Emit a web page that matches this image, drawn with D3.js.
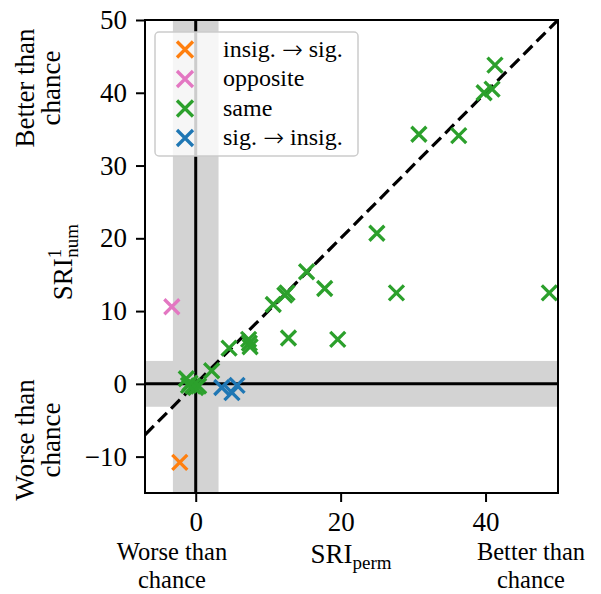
<!DOCTYPE html>
<html><head><meta charset="utf-8">
<script src="https://cdn.jsdelivr.net/npm/d3@7"></script>
<style>body{margin:0;background:#fff}</style>
</head><body>
<script>
const categories = ["insig. \u2192 sig.", "opposite", "same", "sig. \u2192 insig."];
const colors = ["#ff7f0e", "#e377c2", "#2ca02c", "#1f77b4"];
const insigToSigX = [-2.2];
const insigToSigY = [-10.8];
const oppositeX = [-3.3];
const oppositeY = [10.6];
const sameX = [-1.3, -0.8, -0.4, 0.0, 0.4, -1.0, 2.2, 4.6, 7.3, 7.5, 7.4, 10.7, 12.3, 12.6, 12.8, 15.3, 17.8, 19.6, 25.0, 27.7, 30.8, 36.3, 39.8, 40.9, 41.3, 48.8];
const sameY = [0.7, 0.1, -0.3, -0.5, -0.3, -0.2, 1.8, 4.9, 6.1, 5.1, 5.6, 10.9, 12.2, 12.5, 6.3, 15.4, 13.1, 6.1, 20.7, 12.5, 34.3, 34.1, 40.0, 40.5, 43.8, 12.5];
const sigToInsigX = [3.6, 5.0, 5.7];
const sigToInsigY = [-0.5, -1.2, -0.2];
const xTicks = [0, 20, 40];
const yTicks = [-10, 0, 10, 20, 30, 40, 50];
const xDomain = [-7, 50];
const yDomain = [-15, 50];
const band = 3.15;

const FONT = '"Liberation Serif", "DejaVu Serif", serif';
const groups = [
  {xs: insigToSigX, ys: insigToSigY},
  {xs: oppositeX, ys: oppositeY},
  {xs: sameX, ys: sameY},
  {xs: sigToInsigX, ys: sigToInsigY}
];

const W = 601, H = 594;
const m = {l: 145, r: 558, t: 20, b: 493};
const svg = d3.select("body").append("svg").attr("width", W).attr("height", H)
  .style("font-family", FONT);
const x = d3.scaleLinear().domain(xDomain).range([m.l, m.r]);
const y = d3.scaleLinear().domain(yDomain).range([m.b, m.t]);

svg.append("clipPath").attr("id", "clip").append("rect")
  .attr("x", m.l).attr("y", m.t).attr("width", m.r - m.l).attr("height", m.b - m.t);
const plot = svg.append("g").attr("clip-path", "url(#clip)");

plot.append("rect").attr("x", x(-band)).attr("y", m.t).attr("width", x(band) - x(-band)).attr("height", m.b - m.t).attr("fill", "#d3d3d3");
plot.append("rect").attr("x", m.l).attr("y", y(band)).attr("width", m.r - m.l).attr("height", y(-band) - y(band)).attr("fill", "#d3d3d3");
plot.append("line").attr("x1", x(0)).attr("x2", x(0)).attr("y1", m.t).attr("y2", m.b).attr("stroke", "#000").attr("stroke-width", 3);
plot.append("line").attr("x1", m.l).attr("x2", m.r).attr("y1", y(0)).attr("y2", y(0)).attr("stroke", "#000").attr("stroke-width", 3);
plot.append("line").attr("x1", x(-7)).attr("y1", y(-7)).attr("x2", x(50)).attr("y2", y(50))
  .attr("stroke", "#000").attr("stroke-width", 3.2).attr("stroke-dasharray", "12.5,6");

function cross(g, cx, cy, s, color) {
  g.append("path").attr("d", `M${cx - s},${cy - s}L${cx + s},${cy + s}M${cx - s},${cy + s}L${cx + s},${cy - s}`)
    .attr("stroke", color).attr("stroke-width", 3.3).attr("fill", "none");
}
groups.forEach((gr, i) => {
  gr.xs.forEach((v, j) => cross(plot, x(v), y(gr.ys[j]), 7.5, colors[i]));
});

const xAxis = svg.append("g").attr("transform", `translate(0,${m.b})`)
  .call(d3.axisBottom(x).tickValues(xTicks).tickSize(9).tickPadding(10).tickFormat(d3.format("d")));
const yAxis = svg.append("g").attr("transform", `translate(${m.l},0)`)
  .call(d3.axisLeft(y).tickValues(yTicks).tickSize(9).tickPadding(9).tickFormat(d => d < 0 ? "\u2212" + Math.abs(d) : d));
[xAxis, yAxis].forEach(a => {
  a.attr("font-family", FONT);
  a.select(".domain").remove();
  a.selectAll(".tick line").attr("stroke", "#000").attr("stroke-width", 2);
  a.selectAll(".tick text").attr("font-family", FONT).style("font-size", "27px").attr("fill", "#000");
});
svg.append("rect").attr("x", m.l).attr("y", m.t).attr("width", m.r - m.l).attr("height", m.b - m.t)
  .attr("fill", "none").attr("stroke", "#000").attr("stroke-width", 2);

function txt2(xp, yp, lines, fs, gap, rot) {
  const t = svg.append("text").attr("text-anchor", "middle")
    .attr("font-family", FONT).style("font-size", fs + "px");
  if (rot) {
    t.attr("transform", `translate(${xp},${yp}) rotate(-90)`);
    lines.forEach((s, k) => t.append("tspan").attr("x", 0).attr("y", k * gap).text(s));
  } else {
    lines.forEach((s, k) => t.append("tspan").attr("x", xp).attr("y", yp + k * gap).text(s));
  }
  return t;
}
txt2(172, 560, ["Worse than", "chance"], 24.5, 28);
txt2(531, 560, ["Better than", "chance"], 24.5, 28);
const xl = svg.append("text").attr("x", 351).attr("y", 563).attr("text-anchor", "middle").attr("font-family", FONT).style("font-size", "27px");
xl.append("tspan").text("SRI");
xl.append("tspan").attr("dy", 6).style("font-size", "19px").text("perm");

txt2(34, 88, ["Better than", "chance"], 27, 26, true);
txt2(34, 440, ["Worse than", "chance"], 27, 26, true);
const yl = svg.append("text").attr("x", 72).attr("y", 262).attr("text-anchor", "middle")
  .attr("transform", "rotate(-90,72,262)").attr("font-family", FONT).style("font-size", "27px");
yl.append("tspan").text("SRI");
yl.append("tspan").attr("dy", -11).style("font-size", "19px").text("1");
yl.append("tspan").attr("dx", -9).attr("dy", 17).style("font-size", "19px").text("num");

const lg = svg.append("g");
lg.append("rect").attr("x", 155).attr("y", 32).attr("width", 203).attr("height", 124).attr("rx", 4)
  .attr("fill", "#fff").attr("fill-opacity", 0.8).attr("stroke", "#cccccc").attr("stroke-width", 1.5);
categories.forEach((c, i) => {
  const ry = 49.5 + i * 29.5;
  cross(lg, 185, ry, 8, colors[i]);
  const t = lg.append("text").attr("x", 223).attr("y", ry + 7).attr("font-family", FONT).style("font-size", "24px");
  const parts = c.split("\u2192");
  t.append("tspan").text(parts[0]);
  if (parts.length > 1) {
    t.append("tspan").attr("font-family", '"DejaVu Sans", sans-serif').style("font-size", "25px").style("font-weight", "300").attr("dy", 1).text("\u2192");
    t.append("tspan").attr("dy", -1).text(parts[1]);
  }
});
</script>
</body></html>
